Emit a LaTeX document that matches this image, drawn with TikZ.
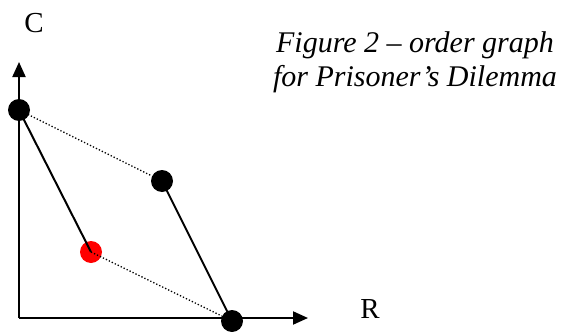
\documentclass[tikz,border=0pt]{standalone}
\usepackage{fontspec}
\setmainfont{Liberation Serif}
\usetikzlibrary{arrows.meta}
\begin{document}
\begin{tikzpicture}[x=1pt,y=-1pt,
  axis/.style={line width=2pt,-{Triangle[length=15pt,width=13pt]}},
  solidline/.style={line width=2pt},
  dotline/.style={line width=1.3pt,dotted},
  bdot/.style={circle,fill=black,minimum size=22pt,inner sep=0pt},
  rdot/.style={circle,fill=red,minimum size=22pt,inner sep=0pt},
  lbl/.style={font=\fontsize{29}{34}\selectfont},
  captiontext/.style={font=\fontsize{30}{34}\selectfont\itshape,align=center}]
\useasboundingbox (0,0) rectangle (565,332);
\coordinate (O) at (19,318);
\coordinate (Ytip) at (19,62);
\coordinate (Xtip) at (308,318);
\draw[axis] (O) -- (Ytip);
\draw[axis] (O) -- (Xtip);
\node[bdot] (a) at (19,110) {};
\node[bdot] (b) at (162,181) {};
\node[rdot] (c) at (91,252) {};
\node[bdot] (d) at (232,321) {};
\draw[solidline] (a.center) -- (c.center);
\draw[solidline] (b.center) -- (d.center);
\draw[dotline] (a.center) -- (b);
\draw[dotline] (c.center) -- (d);
\node[lbl] (C) at (34,23) {C};
\node[lbl] (R) at (370,309) {R};
\node[captiontext] (t) at (415,62) {Figure 2 – order graph\\for Prisoner’s Dilemma};
\end{tikzpicture}
\end{document}
